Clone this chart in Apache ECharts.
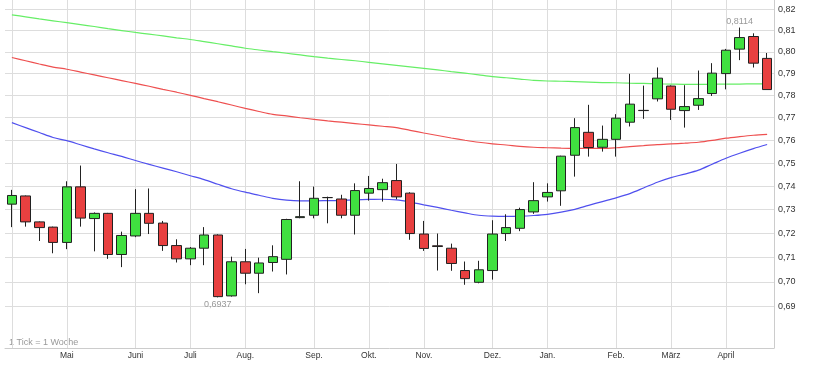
<!DOCTYPE html>
<html><head><meta charset="utf-8">
<script src="https://cdn.jsdelivr.net/npm/echarts@6/dist/echarts.min.js"></script>
<style>html,body{margin:0;padding:0;background:#fff}#c{width:813px;height:365px}</style>
</head><body><div id="c"></div>
<script>
// weekly candles (Monday of each week)
const categories = [
 '2010-04-05','2010-04-12','2010-04-19','2010-04-26',
 '2010-05-03','2010-05-10','2010-05-17','2010-05-24','2010-05-31',
 '2010-06-07','2010-06-14','2010-06-21','2010-06-28',
 '2010-07-05','2010-07-12','2010-07-19','2010-07-26',
 '2010-08-02','2010-08-09','2010-08-16','2010-08-23','2010-08-30',
 '2010-09-06','2010-09-13','2010-09-20','2010-09-27',
 '2010-10-04','2010-10-11','2010-10-18','2010-10-25',
 '2010-11-01','2010-11-08','2010-11-15','2010-11-22','2010-11-29',
 '2010-12-06','2010-12-13','2010-12-20','2010-12-27',
 '2011-01-03','2011-01-10','2011-01-17','2011-01-24','2011-01-31',
 '2011-02-07','2011-02-14','2011-02-21','2011-02-28',
 '2011-03-07','2011-03-14','2011-03-21','2011-03-28',
 '2011-04-04','2011-04-11','2011-04-18','2011-04-25'
];
const opens = [0.7323,0.7358,0.7248,0.7226,0.7162,0.7397,0.7262,0.7284,0.7112,0.7189,
 0.7284,0.7243,0.7149,0.7094,0.7138,0.7193,0.6943,0.7082,0.7035,0.7079,
 0.7092,0.7266,0.7276,0.7351,0.7345,0.7276,0.7370,0.7385,0.7424,0.7370,
 0.7197,0.7148,0.7138,0.7046,0.6998,0.7046,0.7199,0.7221,0.7290,0.7354,
 0.7380,0.7534,0.7635,0.7569,0.7604,0.7680,0.7733,0.7785,0.7843,0.7732,
 0.7756,0.7809,0.7900,0.8013,0.8072,0.7970];
const closes = [0.7360,0.7248,0.7224,0.7162,0.7397,0.7264,0.7284,0.7112,0.7191,0.7284,
 0.7242,0.7149,0.7094,0.7138,0.7193,0.6940,0.7082,0.7035,0.7077,0.7103,
 0.7258,0.7270,0.7348,0.7351,0.7276,0.7381,0.7390,0.7415,0.7354,0.7199,
 0.7137,0.7145,0.7075,0.7013,0.7049,0.7197,0.7224,0.7300,0.7338,0.7373,
 0.7530,0.7656,0.7568,0.7604,0.7698,0.7761,0.7732,0.7879,0.7738,0.7750,
 0.7786,0.7902,0.8008,0.8067,0.7948,0.7827];
const lows = [0.7226,0.7228,0.7168,0.7117,0.7134,0.7228,0.7125,0.7094,0.7060,0.7184,
 0.7197,0.7127,0.7079,0.7068,0.7068,0.6937,0.6940,0.6990,0.6954,0.7042,
 0.7030,0.7263,0.7263,0.7242,0.7263,0.7195,0.7338,0.7334,0.7344,0.7173,
 0.7127,0.7046,0.7045,0.6988,0.6994,0.7009,0.7168,0.7209,0.7282,0.7334,
 0.7316,0.7441,0.7528,0.7550,0.7528,0.7661,0.7695,0.7773,0.7690,0.7656,
 0.7735,0.7798,0.7828,0.7962,0.7928,0.7827];
const highs = [0.7384,0.7360,0.7250,0.7228,0.7421,0.7489,0.7288,0.7286,0.7207,0.7387,
 0.7390,0.7252,0.7175,0.7143,0.7226,0.7196,0.7103,0.7135,0.7099,0.7150,
 0.7261,0.7421,0.7398,0.7355,0.7363,0.7412,0.7444,0.7432,0.7496,0.7374,
 0.7252,0.7199,0.7157,0.7083,0.7086,0.7255,0.7280,0.7308,0.7417,0.7412,
 0.7532,0.7698,0.7758,0.7665,0.7716,0.7899,0.7845,0.7928,0.7846,0.7847,
 0.7914,0.7948,0.8014,0.8114,0.8087,0.7995];
// moving averages
const maLong = [0.8174,0.8165,0.8155,0.8146,0.8137,0.8128,0.8119,0.8109,0.8100,0.8091,
 0.8083,0.8075,0.8066,0.8058,0.8048,0.8038,0.8028,0.8017,0.8009,0.8001,
 0.7994,0.7986,0.7978,0.7971,0.7965,0.7959,0.7952,0.7945,0.7938,0.7931,
 0.7924,0.7917,0.7909,0.7902,0.7894,0.7886,0.7881,0.7875,0.7869,0.7866,
 0.7865,0.7863,0.7861,0.7859,0.7858,0.7856,0.7855,0.7853,0.7852,0.7851,
 0.7851,0.7851,0.7852,0.7852,0.7853,0.7853];
const maMid = [0.7974,0.7959,0.7944,0.7930,0.7920,0.7907,0.7894,0.7881,0.7868,0.7855,
 0.7842,0.7828,0.7815,0.7801,0.7786,0.7772,0.7757,0.7742,0.7728,0.7715,
 0.7708,0.7700,0.7693,0.7686,0.7680,0.7674,0.7668,0.7662,0.7656,0.7644,
 0.7632,0.7621,0.7610,0.7600,0.7591,0.7584,0.7579,0.7573,0.7569,0.7567,
 0.7565,0.7564,0.7564,0.7564,0.7567,0.7572,0.7576,0.7581,0.7584,0.7587,
 0.7591,0.7599,0.7609,0.7616,0.7622,0.7626];
const maShort = [0.7678,0.7656,0.7634,0.7612,0.7598,0.7580,0.7562,0.7545,0.7529,0.7511,
 0.7494,0.7478,0.7462,0.7445,0.7428,0.7408,0.7389,0.7374,0.7361,0.7348,
 0.7340,0.7337,0.7337,0.7338,0.7339,0.7341,0.7343,0.7344,0.7341,0.7332,
 0.7320,0.7309,0.7297,0.7286,0.7276,0.7272,0.7271,0.7272,0.7275,0.7280,
 0.7289,0.7301,0.7318,0.7334,0.7350,0.7368,0.7392,0.7417,0.7437,0.7452,
 0.7469,0.7495,0.7521,0.7543,0.7563,0.7581];
const yTicks = [0.69,0.70,0.71,0.72,0.73,0.74,0.75,0.76,0.77,0.78,0.79,0.80,0.81,0.82];
const monthNames = ['Jan.','Feb.','März','April','Mai','Juni','Juli','Aug.','Sep.','Okt.','Nov.','Dez.'];
const yMin = 0.6736, yMax = 0.8245;

const L = Math.log;
const isMonthStart = i => Number(categories[i].slice(8, 10)) <= 7;
const candleData = opens.map((o, i) => [L(o), L(closes[i]), L(lows[i]), L(highs[i])]);
const logTicks = yTicks.map(L);
const fmt = (v, d) => Math.exp(v).toFixed(d).replace('.', ',');
const FONT = 'Liberation Sans, Arial, sans-serif';

const chart = echarts.init(document.getElementById('c'));
chart.setOption({
  animation: false,
  textStyle: { fontFamily: FONT },
  grid: { left: 5, right: 39, top: 0, bottom: 17, containLabel: false },
  xAxis: {
    type: 'category', data: categories, boundaryGap: true,
    axisLine: { show: true, lineStyle: { color: '#cccccc' } },
    axisTick: { show: false, alignWithLabel: true, interval: (i) => isMonthStart(i) },
    axisLabel: {
      interval: (i) => i > 0 && isMonthStart(i),
      formatter: v => monthNames[Number(v.slice(5, 7)) - 1],
      fontSize: 8.5, color: '#333', margin: 3
    },
    splitLine: { show: true, alignWithLabel: true, interval: (i) => isMonthStart(i), lineStyle: { color: '#dddddd', width: 1 } }
  },
  yAxis: {
    type: 'value', position: 'right', min: L(yMin), max: L(yMax), scale: true,
    axisLine: { show: true, lineStyle: { color: '#cccccc' } },
    axisTick: { show: false, customValues: logTicks },
    axisLabel: { customValues: logTicks, formatter: v => fmt(v, 2), fontSize: 9, color: '#333', margin: 4 },
    splitLine: { show: true, lineStyle: { color: '#dddddd', width: 1 } }
  },
  graphic: [{
    type: 'text', left: 9, top: 338,
    style: { text: '1 Tick = 1 Woche', fill: '#999999', font: '9px ' + FONT }
  }],
  series: [
    { type: 'line', data: maLong.map(L), symbol: 'none', smooth: 0.3, lineStyle: { color: '#66ee66', width: 1.2 }, z: 1 },
    { type: 'line', data: maMid.map(L), symbol: 'none', smooth: 0.3, lineStyle: { color: '#ee5050', width: 1.2 }, z: 1 },
    { type: 'line', data: maShort.map(L), symbol: 'none', smooth: 0.3, lineStyle: { color: '#5050ee', width: 1.2 }, z: 1 },
    {
      type: 'candlestick', data: candleData, barWidth: 10, z: 3,
      itemStyle: { color: '#40e040', color0: '#e84040', borderColor: '#222', borderColor0: '#222', borderWidth: 1 },
      markPoint: {
        symbol: 'circle', symbolSize: 0,
        label: { show: true, color: '#999', fontSize: 9, formatter: p => fmt(p.value, 4) },
        data: [
          { type: 'max', valueDim: 'highest', label: { position: 'top', distance: 2 } },
          { type: 'min', valueDim: 'lowest', label: { position: 'bottom', distance: 3 } }
        ]
      }
    }
  ]
});
</script></body></html>
